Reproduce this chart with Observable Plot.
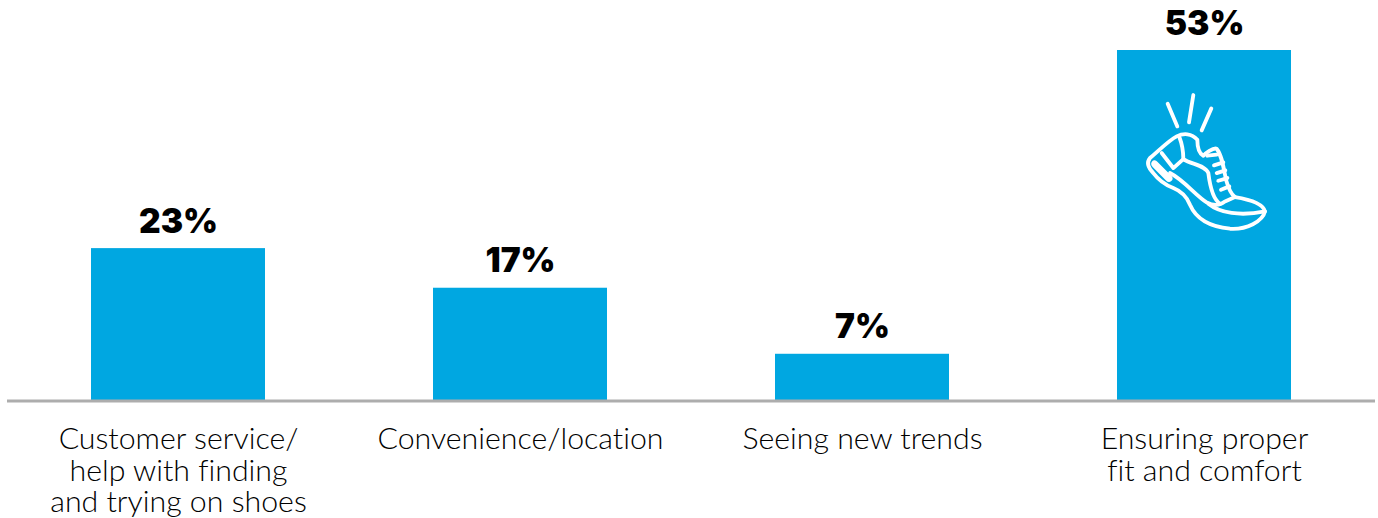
<!DOCTYPE html>
<html>
<head>
<meta charset="utf-8">
<script src="https://cdn.jsdelivr.net/npm/d3@7"></script>
<script src="https://cdn.jsdelivr.net/npm/@observablehq/plot@0.6"></script>
<style>
  html, body { margin: 0; padding: 0; background: #fff; }
  svg { display: block; }
</style>
</head>
<body>
<div id="chart"></div>
<script>
const categories = [
  "Customer service/\nhelp with finding\nand trying on shoes",
  "Convenience/location",
  "Seeing new trends",
  "Ensuring proper\nfit and comfort"
];
const shares = [23, 17, 7, 53];
const rows = categories.map((category, i) => ({category, share: shares[i]}));

const barColor = "#00a7e1";
const ruleColor = "#adadad";

// Running-shoe pictogram, drawn in its own 510-unit box
const shoePaths = [
  "M143,72 L172,140", "M220,46 L207,128", "M274,86 L245,152",
  "M232,180 C215,160 190,160 170,170 C150,180 130,200 90,235 C78,250 85,265 100,280 C115,300 135,315 160,325 C185,335 200,350 210,375 C225,410 260,440 330,447 C380,450 428,425 435,395 C430,375 395,360 345,352 C335,345 325,325 318,300 C310,260 305,225 290,207 C280,203 255,222 250,228 C235,220 232,195 232,180 Z",
  "M178,172 C185,190 190,215 190,238",
  "M125,220 L160,265 L190,238 C215,255 255,255 265,280 C270,320 280,360 300,372",
  "M150,280 C190,300 230,350 260,368 C280,378 300,378 315,365 L345,352",
  "M265,372 C300,400 360,410 435,395",
  "M108,250 L150,292 C156,298 148,304 142,298 L102,258 C96,250 102,244 108,250 Z",
  "M282,257 L310,248", "M290,280 L316,272", "M295,303 L322,295", "M303,330 L328,320",
  "M262,228 L290,225"
];

function shoeIcon(category, topValue) {
  return (index, {x, y}) => {
    const g = d3.create("svg:g")
      .attr("transform", `translate(${x(category) + x.bandwidth() / 2 - 84},${y(topValue)}) scale(${1 / 3})`)
      .attr("fill", "none")
      .attr("stroke", "#fff")
      .attr("stroke-width", 11.5)
      .attr("stroke-linecap", "round")
      .attr("stroke-linejoin", "round");
    g.selectAll("path").data(shoePaths).join("path").attr("d", d => d);
    return g.node();
  };
}

const chart = Plot.plot({
  width: 1378,
  height: 518,
  marginTop: 50,
  marginBottom: 118,
  marginLeft: 7,
  marginRight: 3,
  style: {background: "#fff", fontFamily: "Lato", fontVariantLigatures: "none"},
  x: {domain: categories, paddingInner: 0.491, paddingOuter: 0.2455, label: null},
  y: {domain: [0, 53], axis: null},
  marks: [
    Plot.barY(rows, {x: "category", y: "share", fill: barColor}),
    Plot.ruleY([0], {stroke: ruleColor, strokeWidth: 3, dy: 0.5}),
    Plot.text(rows, {
      x: "category", y: "share", text: d => `${d.share}%`,
      lineAnchor: "bottom", dy: -16,
      fontFamily: "Inter", fontWeight: 900, fontSize: 33.5, fill: "#000"
    }),
    Plot.axisX({
      tickSize: 0, tickPadding: 0, label: null, lineHeight: 1.045,
      fontSize: 30.3, fontFamily: "Lato", fontWeight: 300, fill: "#000", dy: 26
    }),
    shoeIcon(categories[3], 48.5)
  ]
});
document.getElementById("chart").append(chart);
</script>
</body>
</html>
